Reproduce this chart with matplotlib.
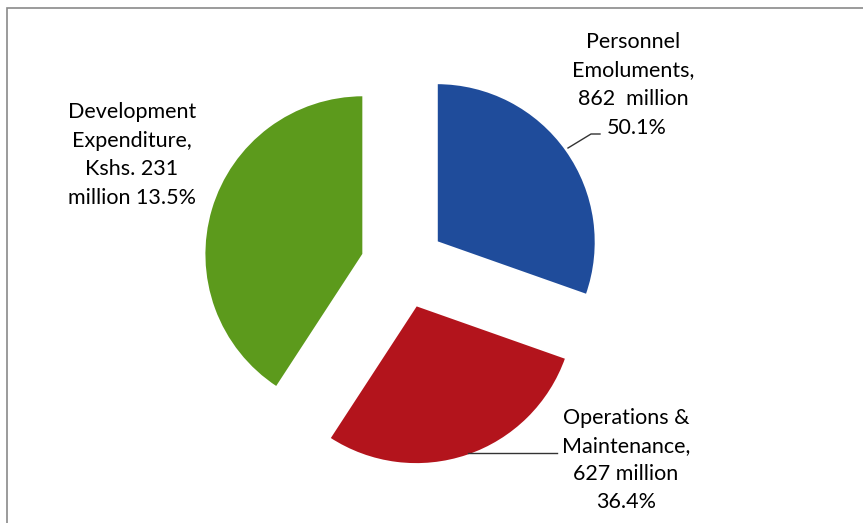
import matplotlib.pyplot as plt
from matplotlib.patches import Rectangle

# slice sizes as drawn in the picture (share of the circle)
slice_share = [30.4, 28.8, 40.8]
names = ['Personnel\nEmoluments,', 'Operations &\nMaintenance,', 'Development\nExpenditure,']
amounts = ['862  million', '627 million', 'Kshs. 231\nmillion']
percents = ['50.1%', '36.4%', '13.5%']
colors = ['#1F4C9B', '#B3141C', '#5C9A1C']

W, H = 863, 523
cx, cy, r = 403, 266, 159

fig = plt.figure(figsize=(W / 100, H / 100), dpi=100)
ax = fig.add_axes([0, 0, 1, 1])

ax.pie(slice_share, colors=colors, startangle=90, counterclock=False,
       explode=[0.26, 0.26, 0.26],
       wedgeprops=dict(edgecolor='white', linewidth=1.5))
ax.set_aspect('auto')
ax.set_xlim(-cx / r, (W - cx) / r)
ax.set_ylim((cy - H) / r, cy / r)
ax.axis('off')


def px(x, y):
    # image pixel -> data coords
    return (x - cx) / r, (cy - y) / r


font = dict(family=['Lato', 'DejaVu Sans'], fontsize=15.5, color='#000000',
            ha='center', va='center')

lbl1 = [names[0].split('\n')[0], names[0].split('\n')[1], amounts[0], percents[0]]
lbl2 = [names[1].split('\n')[0], names[1].split('\n')[1], amounts[1], percents[1]]
lbl3 = [names[2].split('\n')[0], names[2].split('\n')[1], amounts[2].split('\n')[0],
        amounts[2].split('\n')[1] + ' ' + percents[2]]

for i, s in enumerate(lbl1):
    x = 633 if i < 3 else 637
    ax.text(*px(x, 42 + 28.5 * i), s, **font)
for i, s in enumerate(lbl2):
    ax.text(*px(626, 418 + 28 * i), s, **font)
for i, s in enumerate(lbl3):
    ax.text(*px(132, 112 + 28.7 * i), s, **font)

# leader lines
ax.plot(*zip(px(568, 148), px(591, 134), px(600, 134)), color='#333333', lw=1)
ax.plot(*zip(px(468, 453), px(557, 453)), color='#333333', lw=1)

# chart frame (only left and top visible)
fig.add_artist(Rectangle((7 / W, -0.1), 1.2, 1.1 - 8 / H, transform=fig.transFigure,
                         fill=False, edgecolor='#8a8a8a', linewidth=1.2))

fig.savefig('out.png', dpi=100)
